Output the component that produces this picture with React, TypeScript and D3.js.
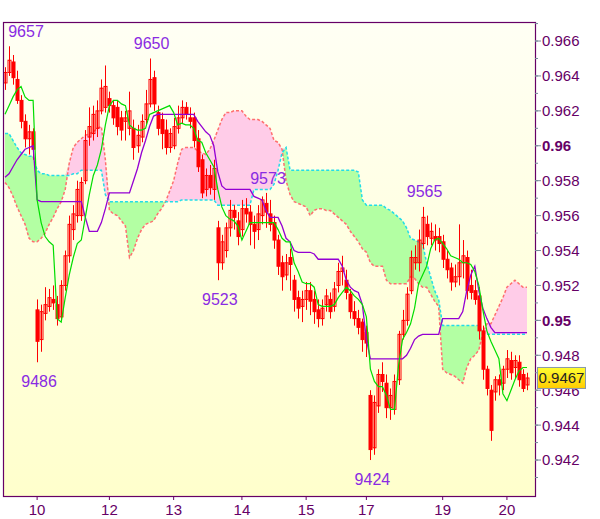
import React from "react";
import * as d3 from "d3";

// prices in pips (0.xxxx * 10000), one entry per bar
const openP = [
  9636, 9642, 9648, 9638, 9626, 9614, 9604, 9608, 9506, 9489,
  9504, 9508, 9512, 9509, 9502, 9520, 9537, 9552, 9560, 9560,
  9580, 9605, 9607, 9610, 9620, 9622, 9627, 9623, 9622, 9616,
  9614, 9610, 9610, 9600, 9605, 9615, 9624, 9639, 9619, 9615,
  9609, 9599, 9600, 9610, 9616, 9622, 9616, 9616, 9604, 9592,
  9575, 9583, 9575, 9553, 9533, 9540, 9553, 9563, 9557, 9552,
  9564, 9562, 9555, 9552, 9560, 9567, 9561, 9556, 9546, 9533,
  9526, 9536, 9523, 9513, 9508, 9512, 9517, 9512, 9506, 9501,
  9509, 9512, 9508, 9520, 9528, 9523, 9515, 9505, 9501, 9499,
  9493, 9457, 9427, 9451, 9469, 9464, 9450, 9449, 9466, 9492,
  9500, 9517, 9533, 9533, 9544, 9555, 9547, 9548, 9548, 9545,
  9535, 9530, 9522, 9525, 9533, 9536, 9520, 9517, 9514, 9494,
  9472, 9460, 9459, 9466, 9464, 9472, 9477, 9473, 9476, 9469, 9463,
];
const closeP = [
  9642, 9649, 9639, 9626, 9614, 9604, 9608, 9598, 9488, 9505,
  9509, 9513, 9510, 9501, 9520, 9537, 9555, 9561, 9575, 9579,
  9603, 9611, 9618, 9620, 9633, 9634, 9623, 9616, 9611, 9609,
  9616, 9620, 9599, 9606, 9614, 9624, 9638, 9624, 9610, 9607,
  9599, 9607, 9611, 9616, 9622, 9618, 9614, 9603, 9588, 9573,
  9583, 9576, 9587, 9533, 9545, 9553, 9563, 9559, 9548, 9564,
  9561, 9555, 9551, 9561, 9569, 9562, 9555, 9546, 9531, 9525,
  9533, 9532, 9512, 9507, 9512, 9517, 9511, 9505, 9501, 9507,
  9514, 9505, 9518, 9528, 9530, 9516, 9505, 9501, 9496, 9489,
  9487, 9426, 9453, 9469, 9465, 9450, 9457, 9465, 9492, 9500,
  9515, 9536, 9536, 9546, 9559, 9548, 9551, 9546, 9544, 9535,
  9529, 9522, 9525, 9533, 9537, 9517, 9516, 9512, 9494, 9472,
  9461, 9437, 9466, 9463, 9472, 9478, 9470, 9477, 9466, 9461, 9467,
];
const highP = [
  9645, 9657, 9652, 9643, 9629, 9618, 9612, 9610, 9512, 9509,
  9519, 9518, 9520, 9514, 9523, 9540, 9560, 9566, 9580, 9582,
  9609, 9622, 9623, 9626, 9638, 9646, 9631, 9626, 9626, 9620,
  9620, 9631, 9615, 9612, 9618, 9632, 9650, 9643, 9623, 9619,
  9615, 9610, 9616, 9623, 9626, 9625, 9622, 9619, 9609, 9595,
  9587, 9589, 9592, 9557, 9549, 9556, 9569, 9566, 9562, 9569,
  9570, 9566, 9560, 9566, 9571, 9573, 9569, 9560, 9549, 9537,
  9538, 9541, 9526, 9517, 9517, 9522, 9522, 9517, 9512, 9512,
  9518, 9516, 9522, 9533, 9537, 9529, 9518, 9511, 9506, 9501,
  9497, 9460, 9457, 9472, 9476, 9469, 9461, 9469, 9494, 9506,
  9519, 9540, 9543, 9552, 9565, 9560, 9556, 9555, 9553, 9549,
  9540, 9533, 9532, 9555, 9546, 9540, 9529, 9523, 9519, 9497,
  9474, 9463, 9468, 9469, 9474, 9483, 9482, 9480, 9480, 9472, 9470,
];
const lowP = [
  9632, 9640, 9635, 9624, 9610, 9599, 9595, 9592, 9476, 9482,
  9500, 9505, 9506, 9497, 9500, 9517, 9533, 9546, 9556, 9557,
  9578, 9600, 9603, 9605, 9618, 9619, 9619, 9612, 9606, 9603,
  9603, 9606, 9592, 9596, 9602, 9612, 9622, 9620, 9606, 9598,
  9595, 9596, 9598, 9607, 9613, 9615, 9610, 9599, 9585, 9570,
  9571, 9572, 9569, 9523, 9529, 9536, 9548, 9552, 9543, 9548,
  9556, 9543, 9541, 9546, 9555, 9553, 9551, 9541, 9526, 9517,
  9523, 9517, 9505, 9501, 9499, 9506, 9503, 9498, 9496, 9497,
  9505, 9501, 9505, 9516, 9520, 9512, 9501, 9497, 9492, 9482,
  9479, 9420, 9423, 9447, 9459, 9444, 9443, 9446, 9463, 9489,
  9497, 9515, 9529, 9528, 9541, 9543, 9543, 9540, 9539, 9530,
  9524, 9517, 9519, 9520, 9524, 9512, 9512, 9509, 9489, 9466,
  9457, 9431, 9454, 9457, 9460, 9467, 9466, 9467, 9462, 9459, 9460,
];

const tenkan = [
  9618, 9623, 9628, 9632, 9634, 9628, 9626, 9626, 9569, 9556,
  9548, 9545, 9543, 9501, 9499, 9513, 9526, 9536, 9544, 9546,
  9559, 9572, 9583, 9589, 9598, 9612, 9623, 9626, 9626, 9624,
  9623, 9612, 9610, 9609, 9609, 9610, 9618, 9619, 9620, 9621,
  9622, 9623, 9619, 9612, 9613, 9612, 9612, 9610, 9603, 9602,
  9596, 9592, 9588, 9575, 9565, 9560, 9558, 9557, 9554, 9546,
  9551, 9556, 9556, 9556, 9556, 9556, 9556, 9556, 9552, 9547,
  9545, 9545, 9533, 9528, 9522, 9521, 9521, 9519, 9509, 9508,
  9508, 9508, 9509, 9513, 9516, 9519, 9517, 9514, 9512, 9509,
  9502, 9472, 9465, 9462, 9462, 9457, 9449, 9449, 9474, 9489,
  9493, 9498, 9507, 9521, 9526, 9531, 9541, 9546, 9547, 9544,
  9541, 9537, 9536, 9535, 9533, 9533, 9532, 9528, 9520, 9506,
  9494, 9488, 9483, 9478, 9458, 9454, 9460, 9466, 9471, 9473, 9473,
];
const kijun = [
  9582, 9584, 9588, 9592, 9595, 9598, 9599, 9600, 9569, 9568,
  9568, 9568, 9568, 9568, 9568, 9568, 9568, 9568, 9568, 9568,
  9559, 9551, 9551, 9551, 9556, 9564, 9573, 9573, 9573, 9573,
  9573, 9573, 9580, 9587, 9596, 9603, 9611, 9617, 9618, 9618,
  9618, 9618, 9618, 9618, 9618, 9618, 9618, 9618, 9614, 9611,
  9608, 9606, 9600, 9585, 9577, 9575, 9575, 9575, 9575, 9575,
  9575, 9575, 9571, 9570, 9569, 9563, 9559, 9559, 9559, 9554,
  9547, 9545, 9540, 9539, 9539, 9539, 9539, 9538, 9535, 9535,
  9535, 9535, 9535, 9535, 9531, 9523, 9519, 9517, 9516, 9509,
  9489, 9478, 9478, 9478, 9478, 9478, 9478, 9478, 9478, 9478,
  9480, 9484, 9489, 9491, 9492, 9492, 9492, 9492, 9492, 9501,
  9501, 9501, 9501, 9501, 9505, 9517, 9526, 9531, 9517, 9507,
  9501, 9496, 9493, 9493, 9493, 9493, 9493, 9493, 9493, 9493, 9493,
];
const spanA = [
  9607, 9607, 9603, 9599, 9596, 9595, 9594, 9594, 9586, 9584,
  9584, 9583, 9583, 9583, 9583, 9583, 9583, 9584, 9584, 9586,
  9586, 9586, 9586, 9586, 9586, 9572, 9568, 9568, 9568, 9568,
  9568, 9568, 9568, 9568, 9568, 9568, 9568, 9568, 9568, 9568,
  9568, 9568, 9568, 9568, 9569, 9569, 9569, 9569, 9569, 9569,
  9569, 9569, 9569, 9566, 9566, 9566, 9566, 9566, 9566, 9566,
  9566, 9566, 9575, 9575, 9575, 9575, 9575, 9578, 9586, 9596,
  9599, 9586, 9586, 9586, 9586, 9586, 9586, 9586, 9586, 9586,
  9586, 9586, 9586, 9586, 9586, 9586, 9586, 9586, 9585, 9569,
  9566, 9566, 9566, 9566, 9566, 9564, 9563, 9561, 9559, 9557,
  9553, 9547, 9546, 9545, 9544, 9533, 9525, 9517, 9512, 9497,
  9497, 9497, 9497, 9497, 9497, 9497, 9497, 9497, 9497, 9493,
  9492, 9492, 9492, 9492, 9492, 9492, 9492, 9492, 9492, 9492, 9492,
];
const spanB = [
  9579, 9576, 9571, 9565, 9560, 9555, 9547, 9545, 9545, 9547,
  9550, 9555, 9559, 9564, 9568, 9575, 9590, 9599, 9602, 9604,
  9606, 9607, 9608, 9610, 9611, 9592, 9563, 9561, 9560, 9557,
  9554, 9536, 9540, 9547, 9552, 9555, 9556, 9557, 9561, 9564,
  9568, 9574, 9580, 9590, 9598, 9599, 9599, 9599, 9597, 9596,
  9595, 9598, 9603, 9609, 9615, 9619, 9619, 9620, 9620, 9620,
  9617, 9615, 9615, 9615, 9614, 9612, 9610, 9603, 9602, 9598,
  9580, 9572, 9568, 9567, 9566, 9565, 9560, 9563, 9564, 9564,
  9563, 9563, 9561, 9559, 9557, 9555, 9551, 9548, 9545, 9541,
  9539, 9533, 9531, 9531, 9531, 9523, 9521, 9521, 9521, 9521,
  9521, 9525, 9524, 9521, 9519, 9519, 9515, 9511, 9508, 9472,
  9470, 9469, 9468, 9466, 9464, 9473, 9478, 9480, 9483, 9493,
  9498, 9498, 9503, 9508, 9513, 9519, 9521, 9523, 9521, 9519, 9519,
];

const dayLabels = ["10", "12", "13", "14", "15", "17", "19", "20"];
const dayBars = [8, 26, 42, 59, 75, 90, 109, 125];

const noteText = ["9657", "9650", "9523", "9486", "9573", "9565", "9424"];
const noteBar = [1, 36, 53, 8, 65, 104, 91];
const noteSide = ["high", "high", "low", "low", "high", "high", "low"];

const lastPrice = "0.9467";

const W = 600;
const H = 519;
const left = 3;
const right = 535;
const top = 22;
const bottom = 496;

export default function App() {
  const N = closeP.length;
  const idx = d3.range(N);
  const x = d3.scaleLinear().domain([0, N - 1]).range([5, 527]);
  const y = d3.scaleLinear().domain([0.93994, 0.96709]).range([bottom, top]);
  const p = (v: number) => y(v / 10000);

  const greenArea = d3
    .area<number>()
    .x((i) => x(i))
    .y0((i) => p(spanB[i]))
    .y1((i) => p(Math.max(spanA[i], spanB[i])));
  const pinkArea = d3
    .area<number>()
    .x((i) => x(i))
    .y0((i) => p(spanA[i]))
    .y1((i) => p(Math.max(spanA[i], spanB[i])));
  const mkLine = (arr: number[]) =>
    d3
      .line<number>()
      .x((i) => x(i))
      .y((i) => p(arr[i]))(idx) || "";

  const majors = d3.range(942, 967, 2).map((v) => v / 1000);
  const minors = d3.range(941, 968, 1).map((v) => v / 1000);

  const lastY = y(+lastPrice);

  return (
    <svg
      width={W}
      height={H}
      style={{ position: "absolute", left: 0, top: 0, background: "#fff" }}
      fontFamily="'Liberation Sans', Arial, sans-serif"
    >
      <defs>
        <linearGradient id="bg" x1="0" y1="0" x2="0" y2="1">
          <stop offset="0%" stopColor="#fffff4" />
          <stop offset="100%" stopColor="#ffffcc" />
        </linearGradient>
        <linearGradient id="pbox" x1="0" y1="0" x2="0" y2="1">
          <stop offset="0%" stopColor="#ffff33" />
          <stop offset="100%" stopColor="#ffcc00" />
        </linearGradient>
        <clipPath id="plot">
          <rect x={left} y={top} width={right - left} height={bottom - top} />
        </clipPath>
      </defs>

      <rect x={left} y={top} width={right - left} height={bottom - top} fill="url(#bg)" />

      <g clipPath="url(#plot)">
        {/* cloud */}
        <path d={greenArea(idx) || ""} fill="#b3ffa3" />
        <path d={pinkArea(idx) || ""} fill="#ffcce8" />
        <path d={mkLine(spanB)} fill="none" stroke="#ff6f6f" strokeWidth={1.5} strokeDasharray="3 2" />
        <path d={mkLine(spanA)} fill="none" stroke="#22dde8" strokeWidth={1.5} strokeDasharray="3 2" />

        {/* candles */}
        {idx.map((i) => {
          const cx = Math.round(x(i)) + 0.5;
          const o = p(openP[i]);
          const c = p(closeP[i]);
          const yt = Math.min(o, c);
          const h = Math.max(Math.abs(o - c), 1);
          return (
            <g key={i}>
              <line x1={cx} x2={cx} y1={p(highP[i])} y2={p(lowP[i])} stroke="#ff0000" strokeWidth={1} />
              <rect
                x={cx - 1.5}
                y={yt}
                width={3}
                height={h}
                fill={closeP[i] >= openP[i] ? "none" : "#ff0000"}
                stroke="#ff0000"
                strokeWidth={1}
              />
            </g>
          );
        })}

        {/* kijun & tenkan */}
        <path d={mkLine(kijun)} fill="none" stroke="#9400d3" strokeWidth={1.3} />
        <path d={mkLine(tenkan)} fill="none" stroke="#00dd00" strokeWidth={1.2} />

        {/* extreme notes */}
        {noteText.map((t, k) => {
          const b = noteBar[k];
          const isHigh = noteSide[k] === "high";
          const cy = isHigh ? p(highP[b]) - 15 : p(lowP[b]) + 19;
          const cx = Math.max(x(b) + 2, left + 23);
          return (
            <text
              key={t}
              x={cx}
              y={cy}
              dy="0.35em"
              textAnchor="middle"
              fontSize={16}
              fill="#8a2be2"
            >
              {t}
            </text>
          );
        })}
      </g>

      {/* frame */}
      <rect
        x={left + 0.5}
        y={top + 0.5}
        width={right - left}
        height={bottom - top}
        fill="none"
        stroke="#660066"
        strokeWidth={1.2}
      />

      {/* right axis */}
      {minors.map((v) => (
        <line key={"m" + v} x1={right} x2={right + 3} y1={y(v)} y2={y(v)} stroke="#778899" />
      ))}
      {majors.map((v) => {
        const label = String(+v.toFixed(3));
        const bold = label.length === 4;
        return (
          <g key={"M" + v}>
            <line x1={right} x2={right + 6} y1={y(v)} y2={y(v)} stroke="#778899" />
            <text
              x={right + 7}
              y={y(v)}
              dy="0.36em"
              fontSize={15}
              fontWeight={bold ? "bold" : "normal"}
              fill="#660066"
            >
              {label}
            </text>
          </g>
        );
      })}

      {/* last price */}
      <rect x={537.5} y={lastY - 10.5} width={48} height={21} fill="url(#pbox)" stroke="#8899aa" strokeWidth={1} />
      <text x={561.5} y={lastY} dy="0.36em" textAnchor="middle" fontSize={15} fill="#222">
        {lastPrice}
      </text>

      {/* bottom axis */}
      {dayLabels.map((d, k) => (
        <g key={d}>
          <line x1={x(dayBars[k])} x2={x(dayBars[k])} y1={bottom} y2={bottom + 4} stroke="#660066" />
          <text x={x(dayBars[k])} y={515} textAnchor="middle" fontSize={15} fill="#660066">
            {d}
          </text>
        </g>
      ))}
    </svg>
  );
}
